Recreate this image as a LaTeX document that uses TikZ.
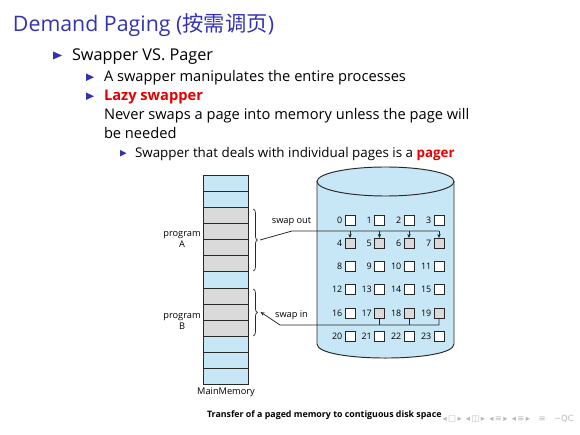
\documentclass[tikz,border=0pt]{standalone}
\usepackage{fontspec}
\setmainfont{Open Sans}
\newfontfamily\cjk{Noto Sans CJK SC}
\newfontfamily\dejavu{DejaVu Sans}
\usetikzlibrary{decorations.pathreplacing,arrows.meta}
\definecolor{struct}{rgb}{0.2,0.2,0.7}
\definecolor{memblue}{RGB}{200,231,246}
\definecolor{pgray}{RGB}{218,218,218}
\definecolor{alertred}{RGB}{232,0,0}
\definecolor{lineg}{RGB}{40,40,40}
\tikzset{
  txt/.style={anchor=base west, inner sep=0pt, outer sep=0pt},
  memrow/.style={draw=lineg, line width=0.6pt, minimum width=28.8pt, minimum height=10.1pt, inner sep=0pt, outer sep=0pt},
  dbox/.style={draw=lineg, line width=0.45pt, minimum width=6.2pt, minimum height=6.2pt, inner sep=0pt, outer sep=0pt},
  numlbl/.style={anchor=east, inner sep=0pt, font=\fontsize{5.6}{7}\selectfont},
  dlbl/.style={inner sep=0pt, align=center, font=\fontsize{5.8}{6.5}\selectfont},
  bul/.style={fill=struct},
  conn/.style={draw=lineg, line width=0.5pt},
  tip/.style={-{Stealth[length=2.6pt,width=2.2pt]}},
  bracest/.style={draw=lineg, line width=0.45pt, decorate, decoration={brace, amplitude=2.4pt}}
}
\begin{document}
\begin{tikzpicture}[x=0.22069mm,y=-0.22069mm]
\useasboundingbox (0,0) rectangle (580,435);
% title
\node[txt, text=struct, font=\fontsize{13.4}{16}\selectfont] (title) at (13,32) {Demand Paging ({\cjk 按需调页})};
% bullets
\fill[bul] (53,51.5) -- (62,55.5) -- (53,59.5) -- cycle;
\node[txt, font=\fontsize{10.2}{13}\selectfont] (l1) at (72,61) {Swapper VS. Pager};
\fill[bul] (86,73.5) -- (94,77.2) -- (86,81) -- cycle;
\node[txt, font=\fontsize{9.2}{12}\selectfont] (l2a) at (104,81.5) {A swapper manipulates the entire processes};
\fill[bul] (86,92.5) -- (94,96.2) -- (86,100) -- cycle;
\node[txt, font=\fontsize{9.2}{12}\bfseries\selectfont, text=alertred] (l2b) at (104,100.5) {Lazy swapper};
\node[txt, font=\fontsize{9.2}{12}\selectfont] (l2c) at (104,120) {Never swaps a page into memory unless the page will};
\node[txt, font=\fontsize{9.2}{12}\selectfont] (l2d) at (104,138.5) {be needed};
\fill[bul] (120,150) -- (126.5,153.2) -- (120,156.4) -- cycle;
\node[txt, font=\fontsize{8.4}{11}\selectfont] (l3) at (135,158) {Swapper that deals with individual pages is a {\bfseries\color{alertred}pager}};
% memory
\foreach \i/\c in {1/memblue,2/memblue,3/pgray,4/pgray,5/pgray,6/pgray,7/memblue,8/pgray,9/pgray,10/pgray,11/memblue,12/memblue,13/memblue}{
  \pgfmathsetmacro\yc{175+(\i-0.5)*16.154}
  \node[memrow, fill=\c] (m\i) at (226,\yc) {};
}
\node[dlbl] (mmlbl) at (226,392) {MainMemory};
\node[dlbl] (pa) at (182,239.5) {program\\A};
\node[dlbl] (pb) at (182,321.5) {program\\B};
\draw[bracest] (253.5,209) -- (253.5,271);
\draw[bracest] (253.5,289) -- (253.5,336);
\coordinate (braceA) at (260,240);
\coordinate (braceB) at (260.5,312);
% disk
\fill[memblue] (317,181.5) -- (317,344) .. controls (317,362.7) and (454,362.7) .. (454,344) -- (454,181.5) -- cycle;
\draw[draw=lineg, line width=0.6pt] (317,181.5) -- (317,344) .. controls (317,362.7) and (454,362.7) .. (454,344) -- (454,181.5);
\draw[draw=lineg, line width=0.6pt, fill=memblue] (385.5,181.5) ellipse [x radius=68.5, y radius=14.5];
\foreach \r/\yy in {0/220,1/243,2/266,3/289,4/313,5/336}{
  \foreach \c/\xx in {0/350,1/379.5,2/409,3/439}{
    \pgfmathtruncatemacro\n{4*\r+\c}
    \def\fc{white}
    \ifnum\n>3 \ifnum\n<8 \def\fc{pgray}\fi\fi
    \ifnum\n>16 \ifnum\n<20 \def\fc{pgray}\fi\fi
    \node[dbox, fill=\fc] (b\n) at (\xx,\yy) {};
    \node[numlbl] (n\n) at ([xshift=-1.6pt]b\n.west) {\n};
  }
}
% swap out
\coordinate (so) at (292,231);
\node[dlbl] (solbl) at (291.5,221.5) {swap out};
\draw[conn] (braceA) -- (so) -- (b7.north |- so);
\foreach \n in {4,5,6,7}{
  \draw[conn, tip] (b\n.north |- so) -- (b\n.north);
}
% swap in
\coordinate (si) at (280,325);
\node[dlbl] (silbl) at (291.5,315.5) {swap in};
\draw[conn, tip] (b19.south) -- (b19.south |- si) -- (si) -- (braceB);
\foreach \n in {17,18}{
  \draw[conn] (b\n.south) -- (b\n.south |- si);
}
% caption
\node[txt, font=\fontsize{5.55}{7}\bfseries\selectfont] (cap) at (207,417) {Transfer of a paged memory to contiguous disk space};
% navigation symbols
\node[anchor=east, inner sep=0pt, text=black!28, font=\dejavu\fontsize{5.3}{6}\selectfont] (nav) at (574,418.5) {◂\,□\,▸\, ◂\,◫\,▸\, ◂\,≡\,▸\, ◂\,≡\,▸\quad ≡\quad ∽QC};
\end{tikzpicture}
\end{document}
